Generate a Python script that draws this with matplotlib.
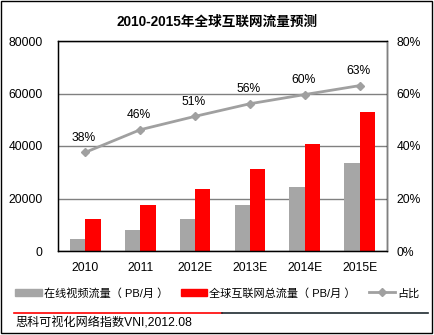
import numpy as np
import matplotlib
matplotlib.use("Agg")
import matplotlib.pyplot as plt
from matplotlib.lines import Line2D
from matplotlib.patches import Rectangle

plt.rcParams['font.family'] = ['Liberation Sans', 'Noto Sans CJK SC', 'DejaVu Sans']

years = ['2010', '2011', '2012E', '2013E', '2014E', '2015E']
video = [4600, 8000, 12200, 17500, 24400, 33500]
total = [12200, 17500, 23600, 31200, 40800, 53000]
share = [37.6, 46.2, 51.3, 56.1, 59.6, 63.0]
share_labels = ['38%', '46%', '51%', '56%', '60%', '63%']

fig = plt.figure(figsize=(4.35, 3.35), dpi=100)
ax = fig.add_axes([58 / 435, 84 / 335, 329 / 435, 210 / 335])

x = np.arange(len(years))
w = 0.28
ax.bar(x - w / 2, video, w, color='#a6a6a6', zorder=2)
ax.bar(x + w / 2, total, w, color='#ff0000', zorder=2)
ax.set_xlim(-0.5, len(years) - 0.5)
ax.set_ylim(0, 80000)
ax.set_yticks([0, 20000, 40000, 60000, 80000])
ax.set_yticklabels(['0', '20000', '40000', '60000', '80000'])
ax.set_xticks(x)
ax.set_xticklabels(years)
ax.tick_params(length=0, labelsize=8.7, pad=8)
ax.tick_params(axis='y', pad=11)
ax.grid(axis='y', color='#808080', linewidth=1, zorder=0)
for s in ax.spines.values():
    s.set_color('black')
    s.set_linewidth(1)

ax2 = ax.twinx()
ax2.plot(x, share, color='#a0a0a0', linewidth=2, marker='D', markersize=4.5, zorder=3)
for xi, v, lab in zip(x, share, share_labels):
    ax2.annotate(lab, (xi, v), xytext=(-1, 6), textcoords='offset points',
                 ha='center', va='bottom', fontsize=8.7)
ax2.set_ylim(0, 80)
ax2.set_yticks([0, 20, 40, 60, 80])
ax2.set_yticklabels(['0%', '20%', '40%', '60%', '80%'])
ax2.tick_params(length=0, labelsize=8.7, pad=7)
ax2.spines['right'].set_color('#808080')

fig.text(0.5, 1 - 22 / 335, '2010-2015年全球互联网流量预测', ha='center', va='center',
         fontsize=9.8, fontweight='bold')

handles = [
    Rectangle((0, 0), 1, 1, color='#a6a6a6'),
    Rectangle((0, 0), 1, 1, color='#ff0000'),
    Line2D([0], [0], color='#a0a0a0', linewidth=2, marker='D', markersize=4),
]
labels = ['在线视频流量（ PB/月 ）', '全球互联网总流量（ PB/月 ）', '占比']
fig.legend(handles, labels, loc='center', bbox_to_anchor=(0.5, 1 - 293 / 335), ncol=3,
           frameon=False, fontsize=8, handlelength=2.35, handleheight=0.7,
           handletextpad=0.18, columnspacing=1.2)

fig.add_artist(Line2D([14 / 435, 222 / 435], [1 - 313 / 335] * 2, color='#ff0000', linewidth=1.2))
fig.add_artist(Line2D([222 / 435, 428 / 435], [1 - 313 / 335] * 2, color='#1f2a30', linewidth=1.2))
fig.text(15 / 435, 1 - 323 / 335, '思科可视化网络指数VNI,2012.08', ha='left', va='center', fontsize=8.7)

fig.add_artist(Rectangle((1.5 / 435, 2 / 335), 431 / 435, 332 / 335, transform=fig.transFigure,
                         fill=False, edgecolor='black', linewidth=1))

fig.savefig('out.png', dpi=100)
